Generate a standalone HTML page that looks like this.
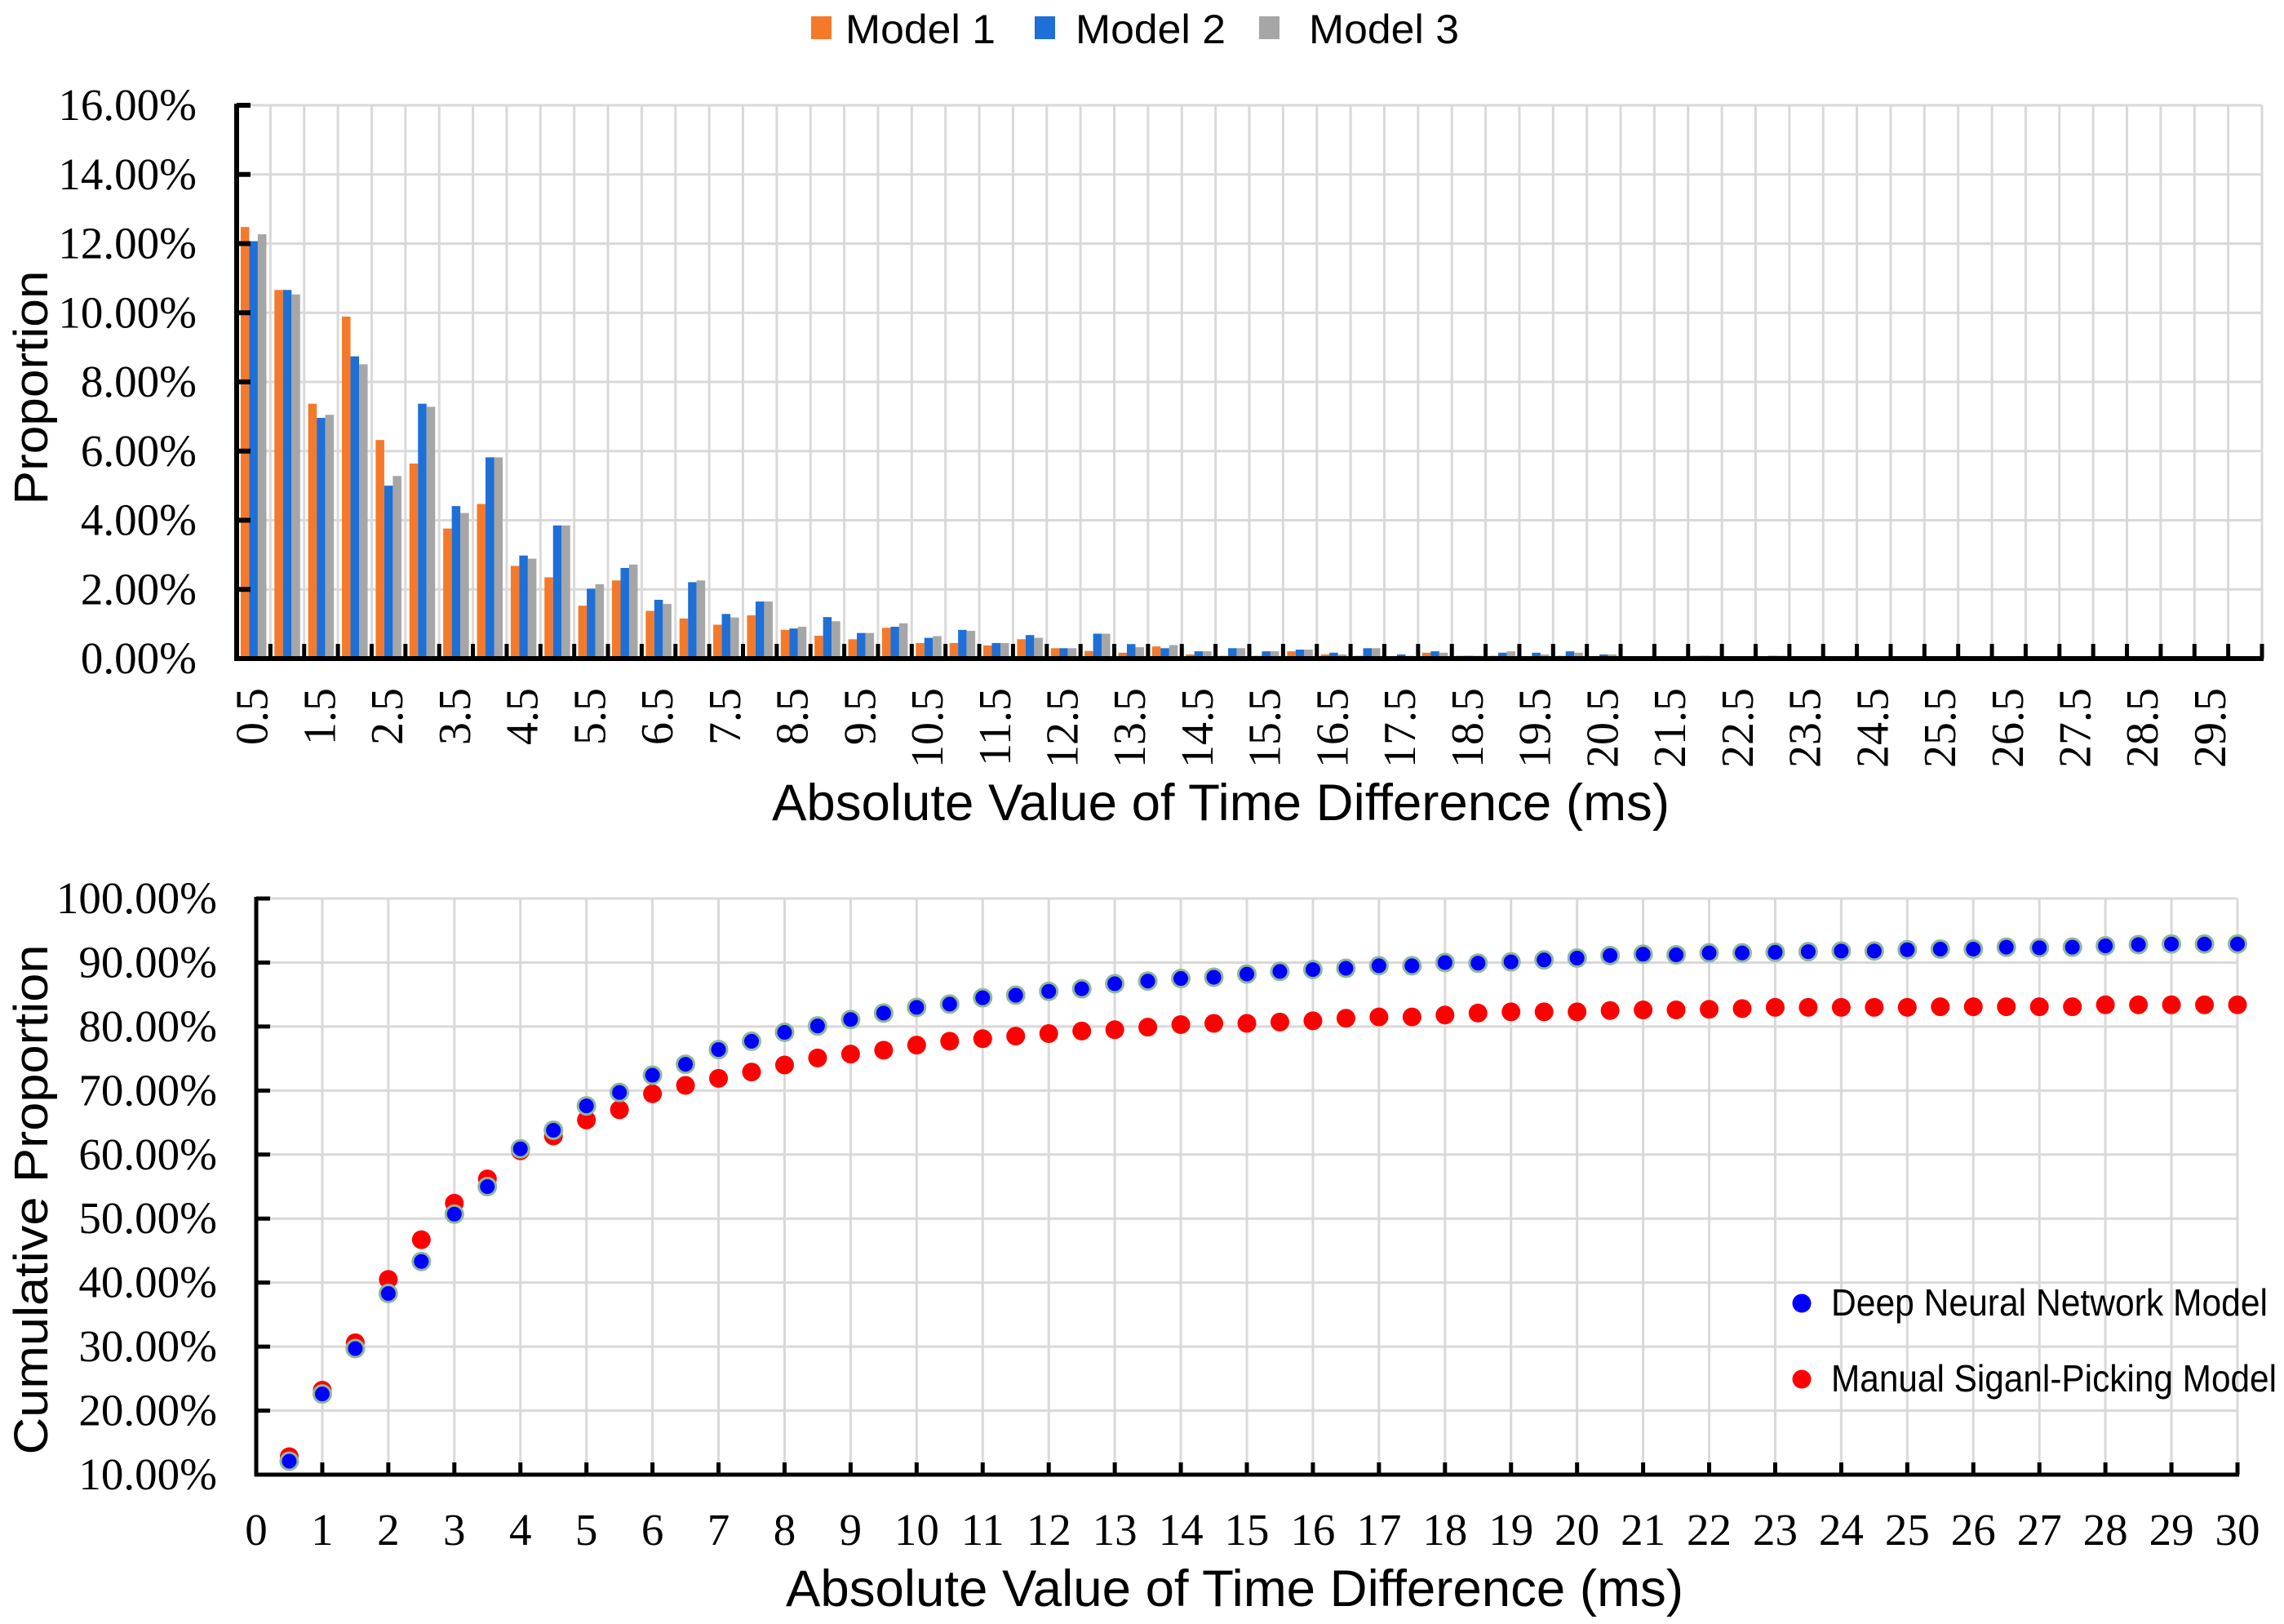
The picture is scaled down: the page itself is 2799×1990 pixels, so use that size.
<!DOCTYPE html>
<html><head><meta charset="utf-8"><style>html,body{margin:0;padding:0;background:#fff}svg{display:block}</style></head>
<body>
<svg id="chart" width="2799" height="1990" viewBox="0 0 2799 1990" xmlns="http://www.w3.org/2000/svg" font-family="Liberation Sans, sans-serif">
<rect x="0" y="0" width="2799" height="1990" fill="#fff"/>
<g id="topchart"></g>
<g id="botchart"></g>
</svg>
<script>
// ---------- Top histogram data ----------
const histCategories = [0.5,1,1.5,2,2.5,3,3.5,4,4.5,5,5.5,6,6.5,7,7.5,8,8.5,9,9.5,10,10.5,11,11.5,12,12.5,13,13.5,14,14.5,15,15.5,16,16.5,17,17.5,18,18.5,19,19.5,20,20.5,21,21.5,22,22.5,23,23.5,24,24.5,25,25.5,26,26.5,27,27.5,28,28.5,29,29.5,30];
const model1 = [12.48,10.66,7.37,9.89,6.32,5.64,3.76,4.47,2.68,2.35,1.53,2.26,1.38,1.16,0.98,1.25,0.83,0.66,0.56,0.89,0.45,0.45,0.38,0.56,0.30,0.22,0.17,0.35,0.12,0.08,0.08,0.21,0.12,0.08,0.06,0.17,0.08,0.08,0,0.08,0,0.03,0.02,0.08,0,0,0,0.02,0,0,0,0,0,0,0,0,0,0,0,0];
const model2 = [12.07,10.66,6.96,8.74,5.00,7.37,4.41,5.82,2.98,3.85,2.02,2.62,1.70,2.21,1.29,1.65,0.87,1.20,0.74,0.92,0.60,0.83,0.45,0.68,0.30,0.72,0.42,0.30,0.21,0.30,0.21,0.26,0.17,0.30,0.12,0.21,0.08,0.17,0.17,0.21,0.12,0.05,0.05,0.08,0.02,0.08,0.04,0.04,0,0.01,0.07,0.03,0,0.03,0.03,0.02,0,0,0,0];
const model3 = [12.27,10.53,7.05,8.51,5.28,7.28,4.21,5.82,2.89,3.85,2.15,2.72,1.58,2.26,1.19,1.65,0.92,1.08,0.74,1.02,0.65,0.80,0.45,0.60,0.30,0.72,0.33,0.39,0.21,0.30,0.21,0.26,0.12,0.30,0.08,0.17,0.08,0.21,0.12,0.17,0.12,0.06,0.06,0.08,0.02,0.08,0.02,0.06,0,0.02,0.07,0,0.02,0.03,0.03,0.02,0,0,0,0];
const histYTicks = [0,2,4,6,8,10,12,14,16];
const histYTickLabels = ["0.00%","2.00%","4.00%","6.00%","8.00%","10.00%","12.00%","14.00%","16.00%"];
const histXLabels = ["0.5","1.5","2.5","3.5","4.5","5.5","6.5","7.5","8.5","9.5","10.5","11.5","12.5","13.5","14.5","15.5","16.5","17.5","18.5","19.5","20.5","21.5","22.5","23.5","24.5","25.5","26.5","27.5","28.5","29.5"];

// ---------- Bottom cumulative data ----------
const cumX = [0.5,1,1.5,2,2.5,3,3.5,4,4.5,5,5.5,6,6.5,7,7.5,8,8.5,9,9.5,10,10.5,11,11.5,12,12.5,13,13.5,14,14.5,15,15.5,16,16.5,17,17.5,18,18.5,19,19.5,20,20.5,21,21.5,22,22.5,23,23.5,24,24.5,25,25.5,26,26.5,27,27.5,28,28.5,29,29.5,30];
const dnnCum = [12.1,22.6,29.7,38.3,43.3,50.7,55.0,60.9,63.8,67.6,69.7,72.4,74.1,76.4,77.7,79.1,80.1,81.1,82.1,83.0,83.5,84.5,84.9,85.5,85.9,86.7,87.1,87.5,87.7,88.2,88.6,88.9,89.1,89.5,89.5,90.0,89.9,90.1,90.4,90.7,91.1,91.3,91.2,91.5,91.5,91.6,91.7,91.8,91.8,92.0,92.1,92.1,92.4,92.3,92.4,92.6,92.8,92.9,92.9,92.9];
const manualCum = [12.8,23.2,30.6,40.5,46.7,52.4,56.2,60.6,62.9,65.4,67.0,69.5,70.8,71.9,72.9,74.0,75.1,75.7,76.3,77.1,77.7,78.1,78.5,78.9,79.3,79.5,79.9,80.3,80.5,80.5,80.7,80.9,81.3,81.5,81.5,81.8,82.1,82.3,82.3,82.3,82.5,82.6,82.6,82.7,82.8,83.0,83.0,83.0,83.0,83.0,83.1,83.1,83.1,83.1,83.1,83.4,83.4,83.4,83.4,83.4];
const cumYTicks = [10,20,30,40,50,60,70,80,90,100];
const cumYTickLabels = ["10.00%","20.00%","30.00%","40.00%","50.00%","60.00%","70.00%","80.00%","90.00%","100.00%"];
const cumXTicks = [0,1,2,3,4,5,6,7,8,9,10,11,12,13,14,15,16,17,18,19,20,21,22,23,24,25,26,27,28,29,30];

const NS = "http://www.w3.org/2000/svg";
function mk(parent, tag, attrs, text) {
  const e = document.createElementNS(NS, tag);
  for (const k in attrs) e.setAttribute(k, attrs[k]);
  if (text !== undefined) e.textContent = text;
  parent.appendChild(e);
  return e;
}

// ===== TOP =====
const topG = document.getElementById('topchart');
const T = {x0: 290, x1: 2772, y0: 807, y1: 129, vmax: 16};
const nCat = histCategories.length;
const catW = (T.x1 - T.x0) / nCat;
function hx(i) { return T.x0 + i * catW; }
function hy(v) { return T.y0 - (v / T.vmax) * (T.y0 - T.y1); }

for (let i = 0; i < histYTicks.length; i++) {
  const g = mk(topG, 'line', {x1: T.x0, x2: T.x1, y1: hy(histYTicks[i]), y2: hy(histYTicks[i]), stroke: '#d9d9d9', 'stroke-width': 3});
  
  
}
for (let i = 1; i <= nCat; i++) {
  const g = mk(topG, 'line', {x1: hx(i), x2: hx(i), y1: T.y1, y2: T.y0, stroke: '#d9d9d9', 'stroke-width': 3});
  
  
}
const series = [model1, model2, model3];
const colors = ['#F5792A', '#1E6FD6', '#A6A6A6'];
const seriesNames = ['model-1', 'model-2', 'model-3'];
const barW = 10.5;
for (let i = 0; i < nCat; i++) {
  const cx = hx(i) + catW / 2;
  for (let s = 0; s < 3; s++) {
    const v = series[s][i];
    if (v <= 0) continue;
    const bxx = cx - 1.5 * barW + s * barW;
    const r = mk(topG, 'rect', {x: bxx, y: hy(v), width: barW, height: T.y0 - hy(v), fill: colors[s]});
    
    
  }
}
let a = mk(topG, 'line', {x1: T.x0, x2: T.x0, y1: T.y1 - 2, y2: T.y0 + 2, stroke: '#000', 'stroke-width': 6});
 
a = mk(topG, 'line', {x1: T.x0 - 3, x2: T.x1 + 2, y1: T.y0, y2: T.y0, stroke: '#000', 'stroke-width': 6});
 
for (let i = 0; i < histYTicks.length; i++) {
  const y = hy(histYTicks[i]);
  const t = mk(topG, 'line', {x1: T.x0, x2: T.x0 + 17, y1: y, y2: y, stroke: '#000', 'stroke-width': 6});
   
  const l = mk(topG, 'text', {x: 241, y: y + 18, 'text-anchor': 'end', 'font-family': 'Liberation Serif, serif', 'font-size': 55, fill: '#000'}, histYTickLabels[i]);
   
}
for (let i = 1; i <= nCat; i++) {
  const t = mk(topG, 'line', {x1: hx(i), x2: hx(i), y1: T.y0, y2: T.y0 - 18, stroke: '#000', 'stroke-width': 5});
   
}
for (let k = 0; k < histXLabels.length; k++) {
  const cx = hx(2 * k) + catW / 2 + 17;
  const l = mk(topG, 'text', {x: 0, y: 0, transform: 'translate(' + cx + ',843) rotate(-90)', 'text-anchor': 'end', 'font-family': 'Liberation Serif, serif', 'font-size': 56, fill: '#000'}, histXLabels[k]);
   
}
let tt = mk(topG, 'text', {x: 1496, y: 1005, 'text-anchor': 'middle', 'font-size': 63, textLength: 1100, lengthAdjust: 'spacingAndGlyphs', fill: '#000'}, 'Absolute Value of Time Difference (ms)');
 
tt = mk(topG, 'text', {x: 0, y: 0, transform: 'translate(58,475) rotate(-90)', 'text-anchor': 'middle', 'font-size': 58, textLength: 287, lengthAdjust: 'spacingAndGlyphs', fill: '#000'}, 'Proportion');
 
const legX = [994, 1268, 1543];
const legTextX = [1036, 1318, 1604];
const legLabels = ['Model 1', 'Model 2', 'Model 3'];
for (let s = 0; s < 3; s++) {
  const g = mk(topG, 'g', {});
  
  
  const r = mk(g, 'rect', {x: legX[s], y: 20, width: 25, height: 28, fill: colors[s]});
   
  const l = mk(g, 'text', {x: legTextX[s], y: 53, 'font-size': 50, textLength: 184, lengthAdjust: 'spacingAndGlyphs', fill: '#000'}, legLabels[s]);
   
}

// ===== BOTTOM =====
const botG = document.getElementById('botchart');
const B = {x0: 314, x1: 2742, y0: 1807, y1: 1101, vmin: 10, vmax: 100, xmax: 30};
function bx(v) { return B.x0 + (v / B.xmax) * (B.x1 - B.x0); }
function by(v) { return B.y0 - ((v - B.vmin) / (B.vmax - B.vmin)) * (B.y0 - B.y1); }
for (let i = 1; i < cumYTicks.length; i++) {
  const g = mk(botG, 'line', {x1: B.x0, x2: B.x1, y1: by(cumYTicks[i]), y2: by(cumYTicks[i]), stroke: '#d9d9d9', 'stroke-width': 3});
   
}
for (let i = 1; i < cumXTicks.length; i++) {
  const g = mk(botG, 'line', {x1: bx(cumXTicks[i]), x2: bx(cumXTicks[i]), y1: B.y1, y2: B.y0, stroke: '#d9d9d9', 'stroke-width': 3});
   
}
a = mk(botG, 'line', {x1: B.x0, x2: B.x0, y1: B.y1 - 2, y2: B.y0 + 2, stroke: '#000', 'stroke-width': 5});
 
a = mk(botG, 'line', {x1: B.x0 - 2, x2: B.x1 + 2, y1: B.y0, y2: B.y0, stroke: '#000', 'stroke-width': 5});
 
for (let i = 0; i < cumYTicks.length; i++) {
  const y = by(cumYTicks[i]);
  const t = mk(botG, 'line', {x1: B.x0, x2: B.x0 + 17, y1: y, y2: y, stroke: '#000', 'stroke-width': 5});
   
  const l = mk(botG, 'text', {x: 266, y: y + 18, 'text-anchor': 'end', 'font-family': 'Liberation Serif, serif', 'font-size': 55, fill: '#000'}, cumYTickLabels[i]);
   
}
for (let i = 0; i < cumXTicks.length; i++) {
  const x = bx(cumXTicks[i]);
  if (i > 0) {
    const t = mk(botG, 'line', {x1: x, x2: x, y1: B.y0, y2: B.y0 - 15, stroke: '#000', 'stroke-width': 5});
     
  }
  const l = mk(botG, 'text', {x: x, y: 1893, 'text-anchor': 'middle', 'font-family': 'Liberation Serif, serif', 'font-size': 55, fill: '#000'}, String(cumXTicks[i]));
   
}
for (let i = 0; i < cumX.length; i++) {
  const c = mk(botG, 'circle', {cx: bx(cumX[i]), cy: by(manualCum[i]), r: 11.5, fill: '#FF0000'});
   
}
for (let i = 0; i < cumX.length; i++) {
  const c = mk(botG, 'circle', {cx: bx(cumX[i]), cy: by(dnnCum[i]), r: 10.5, fill: '#0000FF', stroke: '#8fb89a', 'stroke-width': 3});
   
}
tt = mk(botG, 'text', {x: 1513, y: 1968, 'text-anchor': 'middle', 'font-size': 63, textLength: 1100, lengthAdjust: 'spacingAndGlyphs', fill: '#000'}, 'Absolute Value of Time Difference (ms)');
 
tt = mk(botG, 'text', {x: 0, y: 0, transform: 'translate(58,1470) rotate(-90)', 'text-anchor': 'middle', 'font-size': 58, textLength: 625, lengthAdjust: 'spacingAndGlyphs', fill: '#000'}, 'Cumulative Proportion');
 
const lg1 = mk(botG, 'g', {});
 
let d = mk(lg1, 'circle', {cx: 2208, cy: 1597, r: 11.5, fill: '#0000FF'});
 
d = mk(lg1, 'text', {x: 2244, y: 1612, 'font-size': 46, textLength: 535, lengthAdjust: 'spacingAndGlyphs', fill: '#000'}, 'Deep Neural Network Model');
 
const lg2 = mk(botG, 'g', {});
 
d = mk(lg2, 'circle', {cx: 2208, cy: 1690, r: 11.5, fill: '#FF0000'});
 
d = mk(lg2, 'text', {x: 2244, y: 1705, 'font-size': 46, textLength: 546, lengthAdjust: 'spacingAndGlyphs', fill: '#000'}, 'Manual Siganl-Picking Model');
 
</script>
</body></html>
